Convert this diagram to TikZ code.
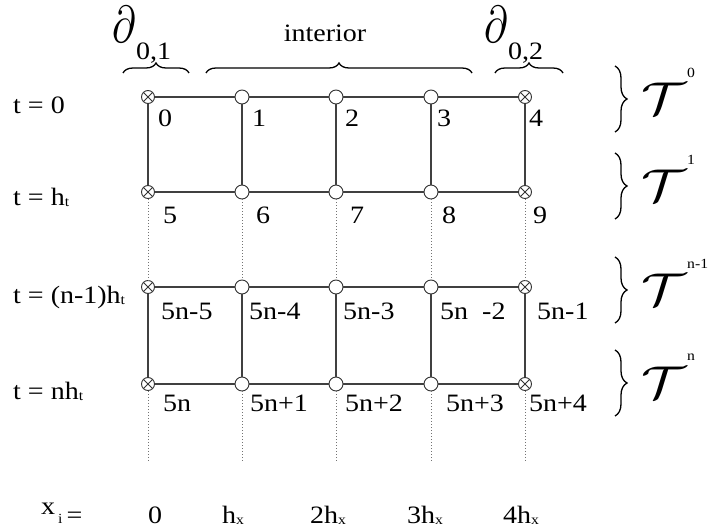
\documentclass[tikz,border=0pt]{standalone}
\usepackage{graphicx}
\usepackage{fontspec}
\setmainfont{Liberation Serif}[FakeStretch=1.12]
\usetikzlibrary{decorations.pathreplacing}
\newcommand{\sub}[1]{\raisebox{-1pt}{\fontsize{14}{14}\selectfont #1}}
\begin{document}
\begin{tikzpicture}[x=1pt,y=-1pt,
  txt/.style={font=\fontsize{25}{28}\selectfont, inner sep=0pt},
  lbl/.style={txt, anchor=north west},
  rowlbl/.style={txt, anchor=base west},
  bnd/.style={circle, draw=black!80, line width=0.9pt, fill=white, minimum size=13pt, inner sep=0pt,
    path picture={\draw[line width=0.8pt, black!80] (path picture bounding box.north west)--(path picture bounding box.south east)
      (path picture bounding box.north east)--(path picture bounding box.south west);}},
  inn/.style={circle, draw=black!80, line width=0.9pt, fill=white, minimum size=14pt, inner sep=0pt},
  gridline/.style={line width=1.1pt, black!75},
  dotline/.style={dotted, line width=1pt, black!55},
  hbrace/.style={decorate, decoration={brace, amplitude=10pt}, line width=1.3pt},
  vbrace/.style={decorate, decoration={brace, amplitude=12pt}, line width=1.3pt},
  bigT/.style={inner sep=0pt},
  supT/.style={inner sep=0pt, font=\fontsize{14}{14}\selectfont, anchor=west},
  dpart/.style={inner sep=0pt}
]
\useasboundingbox (0,0) rectangle (710,532);

% nodes
\foreach \r/\y in {0/97,1/192,2/287,3/384} {
  \node[bnd] (n\r0) at (148,\y) {};
  \node[inn] (n\r1) at (242,\y) {};
  \node[inn] (n\r2) at (336,\y) {};
  \node[inn] (n\r3) at (431,\y) {};
  \node[bnd] (n\r4) at (525,\y) {};
  \draw[gridline] (n\r0) -- (n\r1) -- (n\r2) -- (n\r3) -- (n\r4);
}
\foreach \c/\x in {0/148,1/242,2/336,3/431,4/525} {
  \coordinate (e\c) at (\x,462);
  \draw[gridline] (n0\c) -- (n1\c);
  \draw[dotline] (n1\c) -- (n2\c);
  \draw[gridline] (n2\c) -- (n3\c);
  \draw[dotline] (n3\c) -- (e\c);
}

% node numbers
\node[lbl] (l0) at (158,110) {0};
\node[lbl] (l1) at (252,110) {1};
\node[lbl] (l2) at (345,110) {2};
\node[lbl] (l3) at (437,110) {3};
\node[lbl] (l4) at (529,110) {4};
\node[lbl] (l5) at (163,207) {5};
\node[lbl] (l6) at (256,207) {6};
\node[lbl] (l7) at (350,207) {7};
\node[lbl] (l8) at (442,207) {8};
\node[lbl] (l9) at (533,207) {9};
\node[lbl] (m5) at (161,303) {5n-5};
\node[lbl] (m4) at (249,303) {5n-4};
\node[lbl] (m3) at (343,303) {5n-3};
\node[lbl] (m2) at (440,303) {5n\hspace{14pt}-2};
\node[lbl] (m1) at (537,303) {5n-1};
\node[lbl] (p0) at (163,395) {5n};
\node[lbl] (p1) at (250,395) {5n+1};
\node[lbl] (p2) at (345,395) {5n+2};
\node[lbl] (p3) at (446,395) {5n+3};
\node[lbl] (p4) at (529,395) {5n+4};

% row labels
\node[rowlbl] (t0) at (13,114) {t = 0};
\node[rowlbl] (t1) at (13,206) {t = h\sub{t}};
\node[rowlbl] (t2) at (13,303) {t = (n-1)h\sub{t}};
\node[rowlbl] (t3) at (13,399) {t = nh\sub{t}};

% x labels
\node[rowlbl] (xi) at (41,523) {\raisebox{9pt}{x}\hspace{3pt}{\fontsize{14}{14}\selectfont i}\hspace{4pt}=};
\node[txt, anchor=base] (x0) at (155,523) {0};
\node[txt, anchor=base] (x1) at (233,523) {h\sub{x}};
\node[txt, anchor=base] (x2) at (328,523) {2h\sub{x}};
\node[txt, anchor=base] (x3) at (425,523) {3h\sub{x}};
\node[txt, anchor=base] (x4) at (521,523) {4h\sub{x}};

% top braces and labels
\coordinate (b1a) at (123,73); \coordinate (b1b) at (189,73);
\coordinate (b2a) at (206,73); \coordinate (b2b) at (472,73);
\coordinate (b3a) at (495,73); \coordinate (b3b) at (563,73);
\draw[hbrace] (b1a) -- (b1b);
\draw[hbrace] (b2a) -- (b2b);
\draw[hbrace] (b3a) -- (b3b);
\node[dpart] (d1) at (124,24) {\scalebox{4}[5.2]{$\partial$}};
\node[txt, anchor=base west] (d1s) at (136,60) {0,1};
\node[dpart] (d2) at (496,24) {\scalebox{4}[5.2]{$\partial$}};
\node[txt, anchor=base west] (d2s) at (508,60) {0,2};
\node[txt, anchor=base] (int) at (325,42) {interior};

% right braces and T labels
\foreach \k/\y/\s in {0/99/0, 1/186/1, 2/290/n-1, 3/383/n} {
  \coordinate (r\k a) at (615,\y-33);
  \coordinate (r\k b) at (615,\y+33);
  \draw[vbrace] (r\k a) -- (r\k b);
  \node[bigT] (T\k) at (664,\y) {\scalebox{5.6}[4.6]{$\mathcal{T}$}};
  \node[supT] (S\k) at (687,\y-26) {\s};
}
\end{tikzpicture}
\end{document}
